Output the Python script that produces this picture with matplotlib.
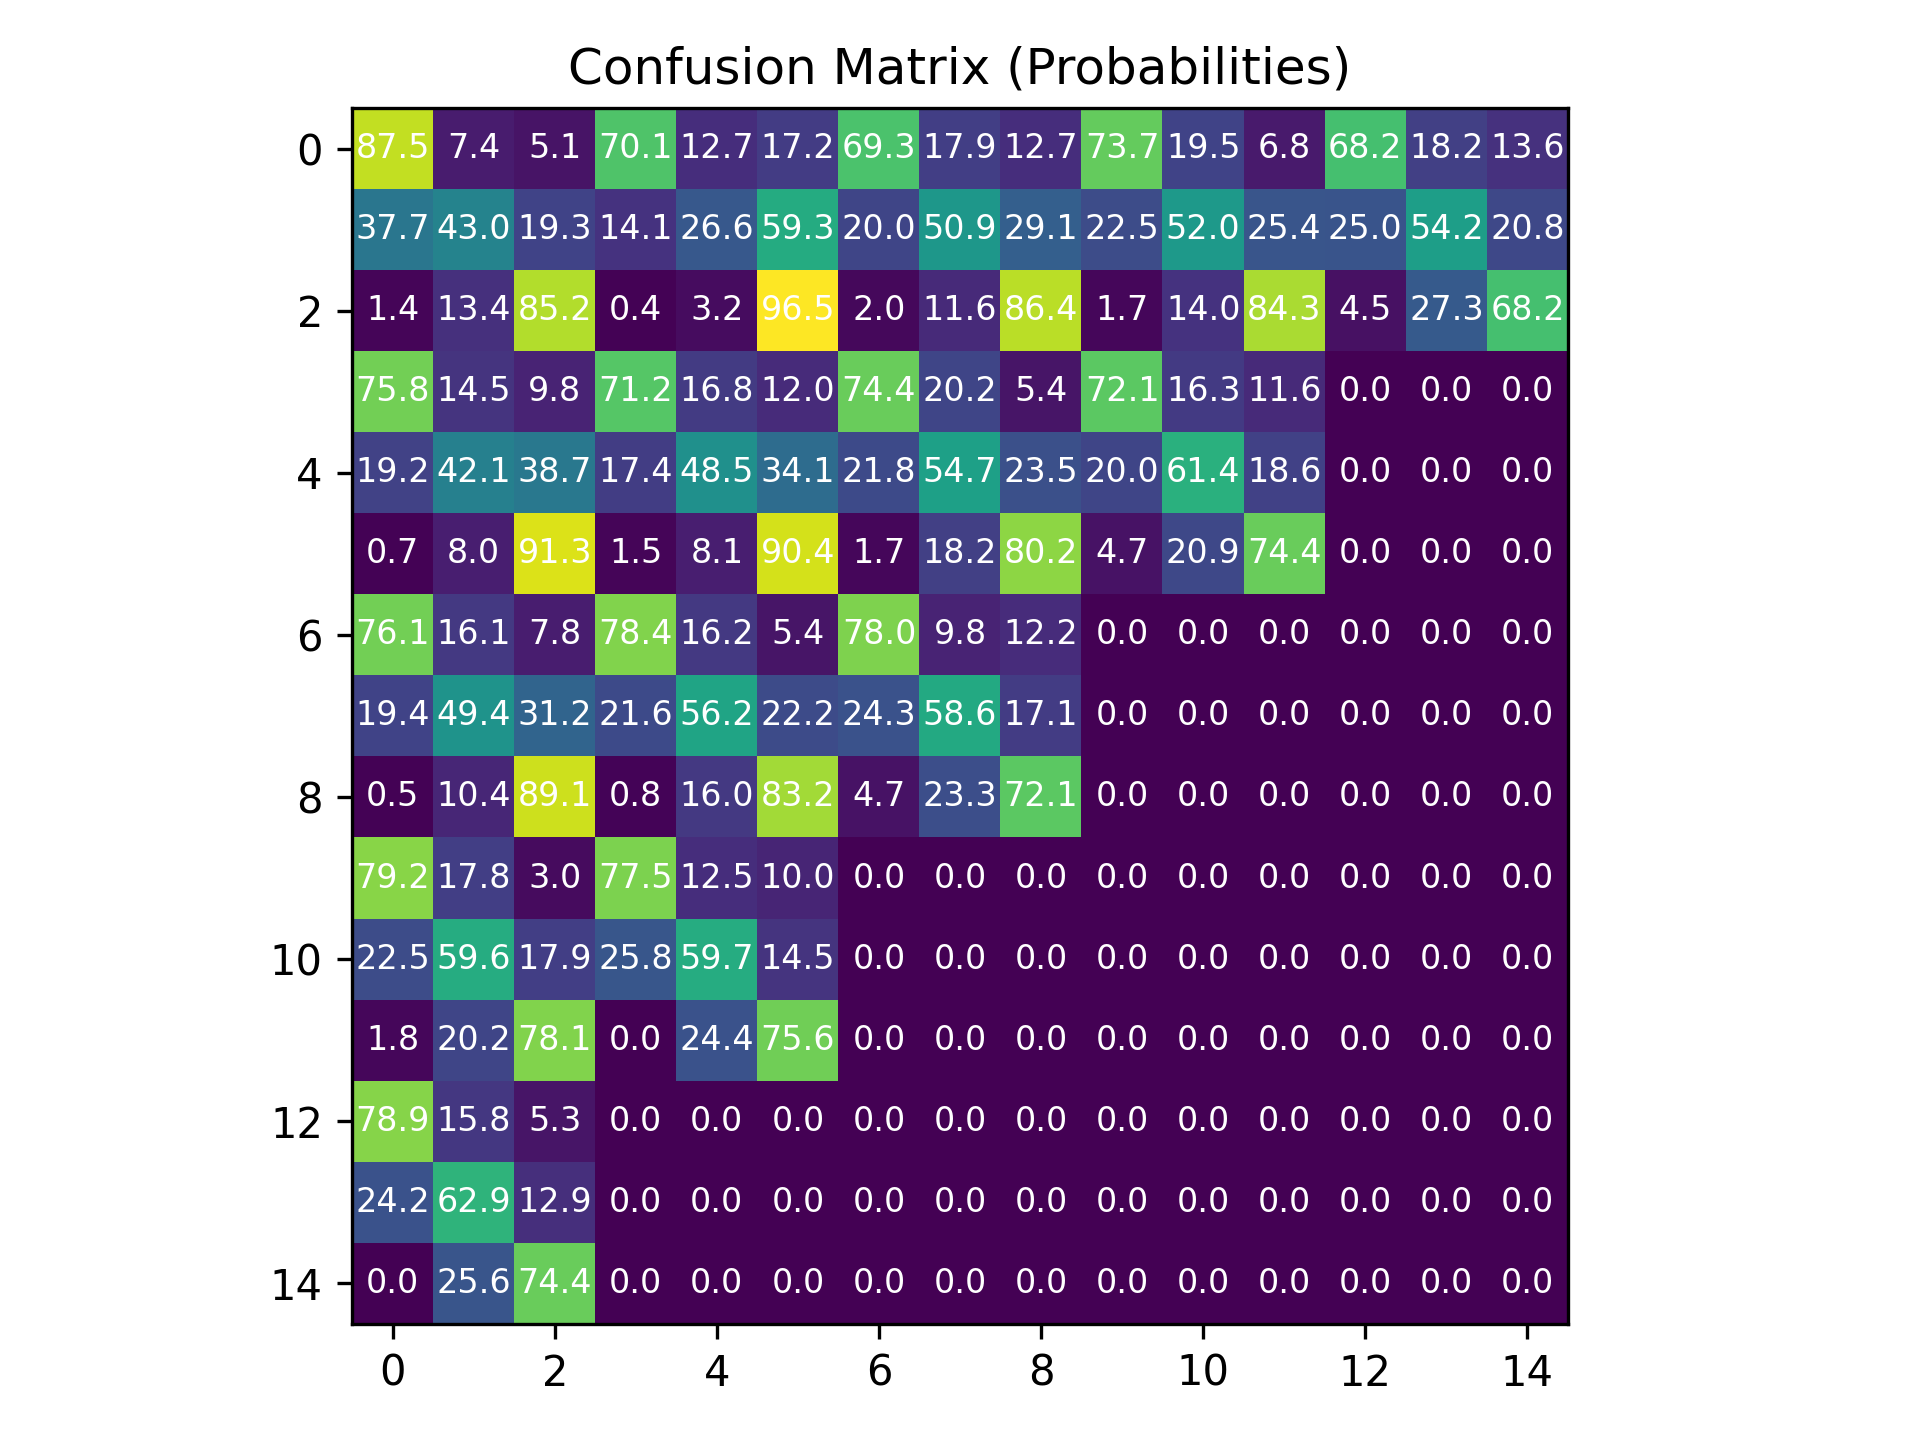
import numpy as np
import matplotlib
matplotlib.use("Agg")
import matplotlib.pyplot as plt

row0 = [87.5, 7.4, 5.1, 70.1, 12.7, 17.2, 69.3, 17.9, 12.7, 73.7, 19.5, 6.8, 68.2, 18.2, 13.6]
row1 = [37.7, 43.0, 19.3, 14.1, 26.6, 59.3, 20.0, 50.9, 29.1, 22.5, 52.0, 25.4, 25.0, 54.2, 20.8]
row2 = [1.4, 13.4, 85.2, 0.4, 3.2, 96.5, 2.0, 11.6, 86.4, 1.7, 14.0, 84.3, 4.5, 27.3, 68.2]
row3 = [75.8, 14.5, 9.8, 71.2, 16.8, 12.0, 74.4, 20.2, 5.4, 72.1, 16.3, 11.6, 0.0, 0.0, 0.0]
row4 = [19.2, 42.1, 38.7, 17.4, 48.5, 34.1, 21.8, 54.7, 23.5, 20.0, 61.4, 18.6, 0.0, 0.0, 0.0]
row5 = [0.7, 8.0, 91.3, 1.5, 8.1, 90.4, 1.7, 18.2, 80.2, 4.7, 20.9, 74.4, 0.0, 0.0, 0.0]
row6 = [76.1, 16.1, 7.8, 78.4, 16.2, 5.4, 78.0, 9.8, 12.2, 0.0, 0.0, 0.0, 0.0, 0.0, 0.0]
row7 = [19.4, 49.4, 31.2, 21.6, 56.2, 22.2, 24.3, 58.6, 17.1, 0.0, 0.0, 0.0, 0.0, 0.0, 0.0]
row8 = [0.5, 10.4, 89.1, 0.8, 16.0, 83.2, 4.7, 23.3, 72.1, 0.0, 0.0, 0.0, 0.0, 0.0, 0.0]
row9 = [79.2, 17.8, 3.0, 77.5, 12.5, 10.0, 0.0, 0.0, 0.0, 0.0, 0.0, 0.0, 0.0, 0.0, 0.0]
row10 = [22.5, 59.6, 17.9, 25.8, 59.7, 14.5, 0.0, 0.0, 0.0, 0.0, 0.0, 0.0, 0.0, 0.0, 0.0]
row11 = [1.8, 20.2, 78.1, 0.0, 24.4, 75.6, 0.0, 0.0, 0.0, 0.0, 0.0, 0.0, 0.0, 0.0, 0.0]
row12 = [78.9, 15.8, 5.3, 0.0, 0.0, 0.0, 0.0, 0.0, 0.0, 0.0, 0.0, 0.0, 0.0, 0.0, 0.0]
row13 = [24.2, 62.9, 12.9, 0.0, 0.0, 0.0, 0.0, 0.0, 0.0, 0.0, 0.0, 0.0, 0.0, 0.0, 0.0]
row14 = [0.0, 25.6, 74.4, 0.0, 0.0, 0.0, 0.0, 0.0, 0.0, 0.0, 0.0, 0.0, 0.0, 0.0, 0.0]

cm = np.array([row0, row1, row2, row3, row4, row5, row6, row7, row8, row9,
               row10, row11, row12, row13, row14])

fig, ax = plt.subplots(figsize=(6.4, 4.8), dpi=300)
ax.imshow(cm, cmap='viridis')
for i in range(cm.shape[0]):
    for j in range(cm.shape[1]):
        ax.text(j, i, f"{cm[i, j]:.1f}", ha='center', va='center', color='white', fontsize=8)
ax.set_title("Confusion Matrix (Probabilities)")
fig.tight_layout()
fig.savefig("out.png")
